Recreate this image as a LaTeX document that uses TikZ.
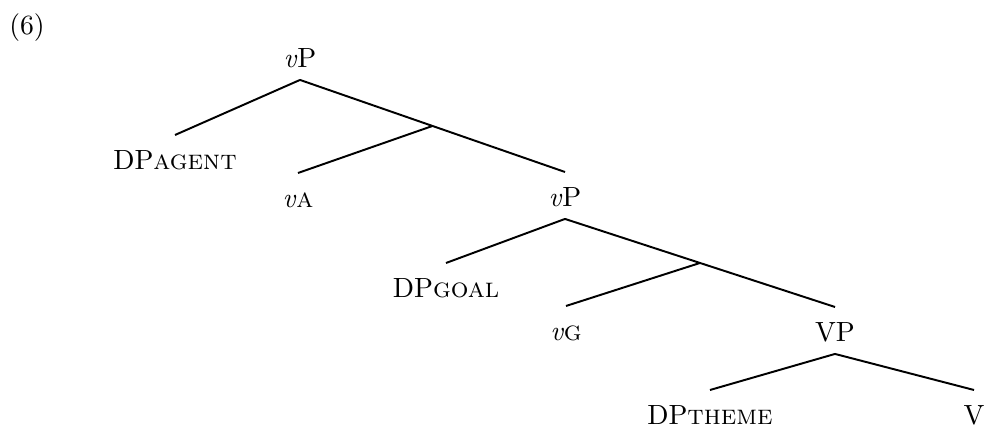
\documentclass[tikz,border=0pt]{standalone}
\usetikzlibrary{calc}
\tikzset{cat/.style={anchor=base,inner sep=0pt,outer sep=0pt,text height=12.6pt,text depth=4.3pt},
         branch/.style={line width=0.7pt},
        }

\begin{document}
\begin{tikzpicture}[x=0.36pt,y=-0.36pt]
        \useasboundingbox (0,0) rectangle (989,428);
        \node[anchor=center](ex)at(27,28){(6)};

        \node[cat](vp1)at(300,68){\textit{v}P};
        \node[cat](dpa)at(175,170){DP\textsc{agent}};
        \node[cat](va)at(298,208){\textit{v}\textsc{a}};
        \node[cat](vp2)at(565,207){\textit{v}P};
        \node[cat](dpg)at(446,298){DP\textsc{goal}};
        \node[cat](vg)at(566,341){\textit{v}\textsc{g}};
        \node[cat](vp3)at(835,342){VP};
        \node[cat](dpt)at(710,425){DP\textsc{theme}};
        \node[cat](vv)at(974,425){V};

        \coordinate (vbar1) at ($(vp1.south)!0.5!(vp2.north)$);
        \coordinate (vbar2) at ($(vp2.south)!0.5!(vp3.north)$);

        \draw[branch](vp1.south)--(dpa.north);
        \draw[branch](vp1.south)--(vbar1)--(vp2.north);
        \draw[branch](vbar1)--(va.north);
        \draw[branch](vp2.south)--(dpg.north);
        \draw[branch](vp2.south)--(vbar2)--(vp3.north);
        \draw[branch](vbar2)--(vg.north);
        \draw[branch](vp3.south)--(dpt.north);
        \draw[branch](vp3.south)--(vv.north);
\end{tikzpicture}
\end{document}
